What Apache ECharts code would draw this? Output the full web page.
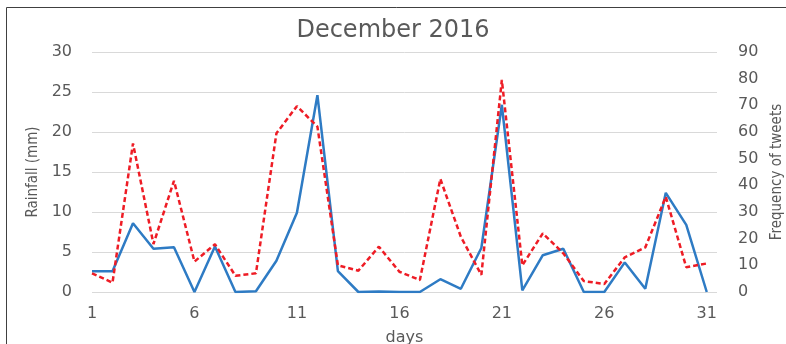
<!DOCTYPE html>
<html>
<head>
<meta charset="utf-8">
<script src="https://cdn.jsdelivr.net/npm/echarts@6/dist/echarts.min.js"></script>
<style>
  html, body { margin: 0; padding: 0; background: #fff; }
  #chart { width: 786px; height: 344px; }
</style>
</head>
<body>
<div id="chart"></div>
<script>
const days = [1, 2, 3, 4, 5, 6, 7, 8, 9, 10, 11, 12, 13, 14, 15, 16,
  17, 18, 19, 20, 21, 22, 23, 24, 25, 26, 27, 28, 29, 30, 31];
const rainfall = [2.6, 2.6, 8.6, 5.4, 5.6, 0, 5.7, 0, 0.1, 3.9, 9.9, 24.6, 2.6, 0, 0.05, 0,
  0, 1.6, 0.4, 5.5, 23.4, 0.2, 4.6, 5.4, 0, 0, 3.7, 0.4, 12.4, 8.4, 0];
const tweets = [7, 3.5, 55.7, 18, 41.7, 11.4, 17.9, 6.1, 7, 59.5, 69.7, 62, 10, 8, 17, 7.6,
  4.5, 42.4, 20.7, 6.4, 79.5, 10, 22, 14.5, 4.1, 3, 13, 16.7, 35.7, 9.3, 10.7];

const chart = echarts.init(document.getElementById("chart"));
const grey = "#595959";
const font = "DejaVu Sans";
const narrow = "DejaVu Sans Condensed, Liberation Sans";

chart.setOption({
  backgroundColor: "#fff",
  animation: false,
  title: {
    text: "December 2016",
    left: "center",
    top: 14,
    textStyle: { fontSize: 24, fontWeight: "normal", color: grey, fontFamily: font },
  },
  graphic: [
    {
      type: "rect",
      shape: { x: 6.5, y: 7.5, width: 900, height: 500 },
      style: { fill: "none", stroke: "#404040", lineWidth: 1 },
    },
  ],
  grid: { left: 92, right: 69, top: 52, bottom: 52, outerBoundsMode: "none" },
  xAxis: {
    type: "value",
    min: 1,
    max: 31.5,
    interval: 5,
    name: "days",
    nameLocation: "middle",
    nameGap: 38,
    nameTextStyle: { fontSize: 16, color: grey, fontFamily: font },
    axisLine: { show: false },
    axisTick: { show: false },
    splitLine: { show: false },
    axisLabel: { color: grey, fontSize: 16, fontFamily: font, margin: 14, showMaxLabel: false },
  },
  yAxis: [
    {
      type: "value",
      min: 0,
      max: 30,
      interval: 5,
      name: "Rainfall (mm)",
      nameLocation: "middle",
      nameGap: 50,
      nameTextStyle: { fontSize: 15, color: grey, fontFamily: narrow },
      axisLine: { show: false },
      axisTick: { show: false },
      axisLabel: { color: grey, fontSize: 16, fontFamily: font, margin: 20 },
      splitLine: { lineStyle: { color: "#d9d9d9", width: 1 } },
    },
    {
      type: "value",
      min: 0,
      max: 90,
      interval: 10,
      name: "Frequency of tweets",
      nameLocation: "middle",
      nameGap: 52,
      nameTextStyle: { fontSize: 15, color: grey, fontFamily: narrow },
      axisLine: { show: false },
      axisTick: { show: false },
      axisLabel: { color: grey, fontSize: 16, fontFamily: font, margin: 21 },
      splitLine: { show: false },
    },
  ],
  series: [
    {
      name: "Rainfall",
      type: "line",
      yAxisIndex: 0,
      data: days.map((d, i) => [d, rainfall[i]]),
      showSymbol: false,
      lineStyle: { color: "#2E7BC4", width: 2.5 },
      z: 2,
    },
    {
      name: "Tweets",
      type: "line",
      yAxisIndex: 1,
      data: days.map((d, i) => [d, tweets[i]]),
      showSymbol: false,
      lineStyle: { color: "#EE1C25", width: 2.5, type: [5, 3] },
      z: 3,
    },
  ],
});
</script>
</body>
</html>
